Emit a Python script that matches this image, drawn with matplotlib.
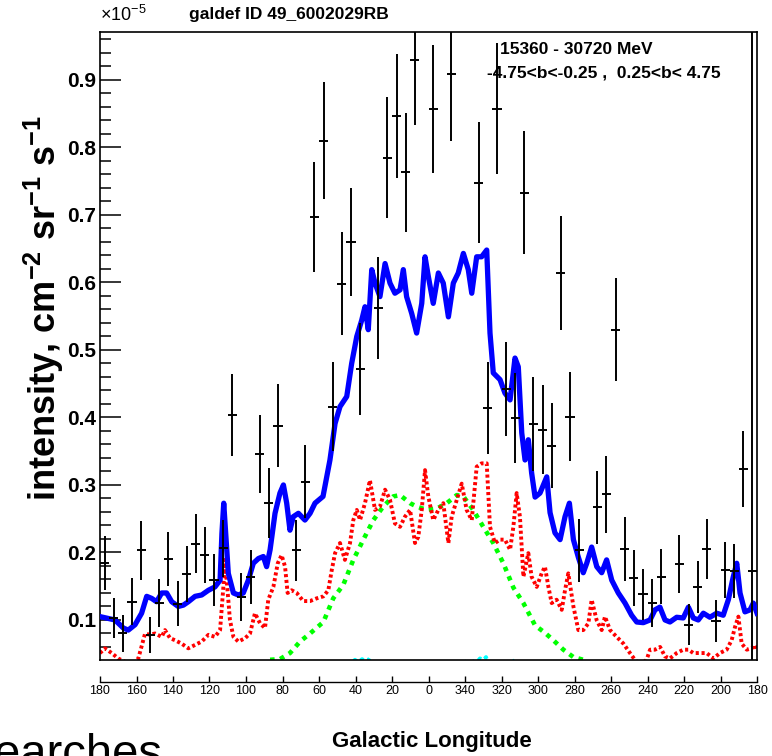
import numpy as np
import matplotlib
matplotlib.use("Agg")
import matplotlib.pyplot as plt
from matplotlib.ticker import MultipleLocator

plt.rcParams.update({
    "font.family": ["Liberation Sans", "DejaVu Sans"],
    "mathtext.fontset": "custom",
    "mathtext.rm": "Liberation Sans",
    "mathtext.bf": "Liberation Sans:bold",
})

# ---- data (intensity in units of 1e-5 cm^-2 sr^-1 s^-1) ----------------
# measured points, 5 deg bins from l = 177.5 down to -177.5 (None = no point)
data_l = np.arange(177.5, -180, -5.0)
data_v = [0.184, 0.103, 0.080, 0.127, 0.203, 0.078, 0.125, 0.190, 0.124, 0.168,
          0.213, 0.196, 0.159, 0.206, 0.404, 0.134, 0.164, 0.346, 0.273, 0.388,
          None, 0.203, 0.305, 0.697, 0.810, 0.416, 0.598, 0.660, 0.472, None,
          0.562, 0.785, 0.847, 0.763, 0.930, None, 0.857, None, 0.909, None,
          None, 0.748, 0.414, 0.857, 0.442, 0.399, 0.733, 0.390, 0.382, 0.358,
          0.614, 0.401, 0.203, None, 0.267, 0.286, 0.530, 0.205, 0.162, 0.138,
          0.125, 0.164, None, 0.183, 0.093, 0.149, 0.205, 0.099, 0.174, 0.172,
          0.324, 0.172]
data_err = [0.040, 0.030, 0.027, 0.035, 0.044, 0.027, 0.035, 0.040, 0.033, 0.041,
            0.044, 0.041, 0.039, 0.042, 0.061, 0.036, 0.040, 0.058, 0.052, 0.062,
            0.0, 0.045, 0.054, 0.081, 0.087, 0.066, 0.076, 0.080, 0.068, 0.0,
            0.076, 0.089, 0.092, 0.088, 0.097, 0.0, 0.095, 0.0, 0.099, 0.0,
            0.0, 0.089, 0.068, 0.097, 0.070, 0.067, 0.091, 0.070, 0.066, 0.063,
            0.084, 0.066, 0.047, 0.0, 0.054, 0.057, 0.076, 0.047, 0.041, 0.038,
            0.036, 0.041, 0.0, 0.043, 0.030, 0.039, 0.045, 0.031, 0.041, 0.040,
            0.056, 1.0]

# total model (blue)
blue_l = [180, 171.8, 167.2, 164.5, 160.8, 157.2, 154.4, 151.7, 149.0, 146.2,
          143.5, 140.7, 137.1, 134.3, 131.6, 127.9, 124.3, 120.6, 117.0, 114.2,
          113.2, 112.2, 111.1, 109.7, 106.9, 104.2, 101.5, 98.7, 96.0, 93.2,
          90.5, 88.7, 86.8, 84.1, 81.4, 79.5, 77.7, 75.9, 74.1, 71.3,
          67.7, 64.9, 62.2, 57.8, 54.0, 51.2, 48.5, 44.8, 42.1, 39.3,
          36.6, 34.8, 33.0, 31.1, 29.3, 26.6, 23.8, 21.1, 18.4, 15.6,
          13.8, 12.0, 9.2, 6.5, 3.7, 1.9, 0.1, -2.6, -5.4, -8.1,
          -10.9, -13.6, -16.3, -19.1, -21.8, -23.7, -26.4, -29.1, -31.9, -33.7,
          -35.5, -39.2, -41.9, -44.7, -47.4, -49.2, -51.1, -52.9, -54.7, -56.5,
          -58.4, -61.1, -64.8, -66.6, -69.3, -72.1, -74.8, -77.2, -79.4, -82.1,
          -84.8, -86.7, -89.4, -92.2, -94.9, -97.6, -100.4, -104.0, -107.7, -111.3,
          -114.1, -117.7, -121.4, -124.1, -126.8, -129.6, -132.3, -136.0, -139.6, -142.4,
          -145.1, -147.8, -150.6, -154.2, -157.9, -161.5, -164.3, -167.0, -168.9, -170.7,
          -173.4, -176.2, -178.0, -180]
blue_v = [0.105, 0.100, 0.088, 0.085, 0.093, 0.110, 0.135, 0.132, 0.127, 0.140,
          0.140, 0.127, 0.120, 0.122, 0.127, 0.135, 0.137, 0.144, 0.149, 0.159,
          0.228, 0.273, 0.228, 0.169, 0.140, 0.137, 0.140, 0.159, 0.184, 0.191,
          0.194, 0.179, 0.204, 0.258, 0.288, 0.300, 0.273, 0.233, 0.253, 0.258,
          0.248, 0.258, 0.273, 0.283, 0.337, 0.391, 0.416, 0.431, 0.480, 0.520,
          0.544, 0.564, 0.530, 0.619, 0.599, 0.579, 0.628, 0.599, 0.584, 0.589,
          0.619, 0.579, 0.554, 0.525, 0.569, 0.638, 0.609, 0.569, 0.614, 0.599,
          0.549, 0.599, 0.614, 0.643, 0.619, 0.584, 0.638, 0.638, 0.648, 0.525,
          0.466, 0.456, 0.436, 0.426, 0.488, 0.475, 0.377, 0.337, 0.367, 0.318,
          0.282, 0.288, 0.312, 0.259, 0.229, 0.219, 0.253, 0.273, 0.219, 0.193,
          0.170, 0.184, 0.208, 0.179, 0.170, 0.189, 0.159, 0.140, 0.125, 0.107,
          0.097, 0.096, 0.100, 0.115, 0.119, 0.100, 0.097, 0.104, 0.103, 0.119,
          0.103, 0.100, 0.110, 0.104, 0.110, 0.107, 0.130, 0.164, 0.184, 0.140,
          0.112, 0.115, 0.125, 0.110]

# red dotted component
red_l = [180, 177.3, 173.6, 170.0, 166.3, 162.6, 159.0, 155.3, 152.6, 149.9,
         146.2, 144.4, 141.6, 138.9, 135.3, 131.6, 127.9, 124.3, 120.6, 117.0,
         114.2, 112.4, 111.5, 110.0, 108.8, 106.9, 104.2, 100.5, 97.8, 95.1,
         92.3, 89.6, 87.8, 85.0, 82.6, 80.5, 78.6, 77.2, 75.0, 72.2,
         68.6, 64.9, 61.3, 57.6, 54.9, 53.0, 51.2, 48.5, 45.8, 43.0,
         41.2, 39.3, 37.5, 34.8, 32.1, 29.3, 26.6, 23.8, 21.1, 18.4,
         15.6, 12.9, 10.1, 7.4, 5.6, 3.7, 1.9, 0.1, -2.6, -5.4,
         -8.1, -10.9, -12.7, -15.5, -18.2, -20.9, -23.7, -26.4, -29.1, -31.9,
         -33.7, -36.4, -39.2, -41.9, -44.7, -46.5, -48.3, -50.1, -52.0, -54.7,
         -56.5, -59.3, -62.0, -63.8, -65.7, -67.5, -70.2, -73.0, -74.8, -76.6,
         -79.4, -82.1, -84.8, -87.6, -89.4, -92.1, -94.9, -96.7, -99.5, -103.1,
         -106.8, -110.4, -113.1, -115.9, -119.5, -121.4, -124.1, -126.9, -129.6, -132.3,
         -136.0, -139.6, -142.4, -145.1, -148.8, -152.4, -156.1, -159.7, -163.4, -166.1,
         -168.0, -169.8, -171.6, -174.4, -177.1, -178.9, -180]
red_v = [0.051, 0.058, 0.051, 0.043, 0.038, 0.033, 0.043, 0.080, 0.078, 0.080,
         0.075, 0.085, 0.073, 0.070, 0.065, 0.058, 0.063, 0.068, 0.078, 0.075,
         0.085, 0.149, 0.189, 0.140, 0.100, 0.075, 0.068, 0.073, 0.080, 0.110,
         0.095, 0.088, 0.130, 0.149, 0.184, 0.196, 0.179, 0.140, 0.144, 0.140,
         0.128, 0.128, 0.132, 0.135, 0.144, 0.174, 0.199, 0.214, 0.189, 0.214,
         0.248, 0.263, 0.248, 0.273, 0.307, 0.263, 0.268, 0.293, 0.278, 0.243,
         0.238, 0.253, 0.263, 0.214, 0.223, 0.263, 0.322, 0.283, 0.248, 0.263,
         0.273, 0.214, 0.253, 0.278, 0.302, 0.263, 0.248, 0.327, 0.332, 0.332,
         0.238, 0.214, 0.219, 0.219, 0.204, 0.238, 0.288, 0.253, 0.164, 0.199,
         0.164, 0.149, 0.169, 0.179, 0.149, 0.125, 0.130, 0.115, 0.144, 0.169,
         0.120, 0.085, 0.085, 0.095, 0.130, 0.100, 0.085, 0.105, 0.085, 0.075,
         0.065, 0.051, 0.041, 0.033, 0.041, 0.056, 0.056, 0.060, 0.046, 0.043,
         0.051, 0.056, 0.056, 0.051, 0.051, 0.051, 0.043, 0.051, 0.056, 0.070,
         0.090, 0.105, 0.065, 0.056, 0.058, 0.063, 0.056]

# green dotted component
green_l = [86.8, 81.4, 75.9, 70.4, 64.9, 57.6, 52.2, 46.7, 41.2, 35.7,
           30.2, 24.8, 19.3, 15.6, 10.1, 6.5, 1.0, -4.5, -10.0, -15.5,
           -19.1, -24.5, -30.0, -35.5, -41.0, -46.5, -52.0, -58.4, -63.8, -68.4,
           -73.9, -79.4, -84.8]
green_v = [0.041, 0.042, 0.051, 0.068, 0.080, 0.097, 0.132, 0.152, 0.189, 0.219,
           0.248, 0.268, 0.283, 0.285, 0.273, 0.268, 0.263, 0.265, 0.273, 0.285,
           0.283, 0.263, 0.238, 0.214, 0.184, 0.148, 0.125, 0.092, 0.081, 0.070,
           0.056, 0.045, 0.041]

# cyan component (mostly below the plotted range)
cyan_l = [44, 40.3, 38.5, 36.4, 35.0, 34.2, 33.0, 32.1, 30, 26,
          24.4, 23, 0, -17, -18.9, -21, -24, -25.5, -27, -28.2,
          -30, -31.5, -33, -45, -47.4, -50]
cyan_v = [0.030, 0.041, 0.037, 0.042, 0.039, 0.041, 0.040, 0.044, 0.035, 0.035,
          0.041, 0.033, 0.030, 0.033, 0.041, 0.036, 0.036, 0.041, 0.039, 0.043,
          0.040, 0.045, 0.034, 0.034, 0.041, 0.033]

lon_ticks = [180, 160, 140, 120, 100, 80, 60, 40, 20, 0,
             -20, -40, -60, -80, -100, -120, -140, -160, -180]
lon_labels = ["180", "160", "140", "120", "100", "80", "60", "40", "20", "0",
              "340", "320", "300", "280", "260", "240", "220", "200", "180"]

# ---- figure (positions in pixels of a 772x756 canvas) --------------------
W, H = 772, 756
fx = lambda px: px / W
fy = lambda py: 1 - py / H

fig = plt.figure(figsize=(W / 100, H / 100), dpi=100)

ax = fig.add_axes([fx(100), fy(660), fx(757) - fx(100), fy(32) - fy(660)])
ax.set_xlim(180, -180)
ax.set_ylim(0.0407, 0.971)

ax.plot(cyan_l, cyan_v, color="#00ffff", lw=2.8, ls=(0, (1, 1.2)), zorder=2)
ax.plot(green_l, green_v, color="#00ff00", lw=3.3, ls=(0, (1, 1.2)), zorder=2)
ax.plot(red_l, red_v, color="#ff0000", lw=2.8, ls=(0, (0.8, 0.7)), zorder=2)
ax.plot(blue_l, blue_v, color="#0000ff", lw=3.8, zorder=3)

dv = np.array(data_v, dtype=float)
ax.errorbar(data_l, dv, yerr=data_err, xerr=2.5, fmt="none",
            ecolor="black", elinewidth=1.4, capsize=0, zorder=4)

for s in ax.spines.values():
    s.set_linewidth(1.2)
ax.set_yticks([0.1, 0.2, 0.3, 0.4, 0.5, 0.6, 0.7, 0.8, 0.9])
ax.set_yticklabels(["0.1", "0.2", "0.3", "0.4", "0.5", "0.6", "0.7", "0.8", "0.9"],
                   fontweight="bold")
ax.yaxis.set_minor_locator(MultipleLocator(0.02))
ax.tick_params(axis="y", which="major", direction="in", length=15, width=1.1,
               labelsize=15, pad=3)
ax.tick_params(axis="y", which="minor", direction="in", length=8, width=1.1)
ax.tick_params(axis="x", which="both", bottom=False, labelbottom=False)

# separate longitude axis under the frame
axx = fig.add_axes([fx(100), fy(682), fx(757) - fx(100), 1e-4])
axx.set_xlim(180, -180)
axx.set_yticks([])
for side in ("left", "right", "top"):
    axx.spines[side].set_visible(False)
axx.spines["bottom"].set_linewidth(1.0)
axx.patch.set_visible(False)
axx.set_xticks(lon_ticks)
axx.set_xticklabels(lon_labels)
axx.tick_params(axis="x", direction="in", length=4, width=1, labelsize=9, pad=2)

# texts
fig.text(fx(100), fy(15), r"$\times10^{-5}$", ha="left", va="center", fontsize=13)
fig.text(fx(289), fy(15), "galdef ID 49_6002029RB", ha="center", va="center",
         fontsize=12.5, fontweight="bold")
fig.text(fx(500), fy(50), "15360 - 30720 MeV", ha="left", va="center",
         fontsize=12.5, fontweight="bold")
fig.text(fx(487), fy(73), "-4.75<b<-0.25 ,  0.25<b< 4.75", ha="left", va="center",
         fontsize=12.5, fontweight="bold")
fig.text(fx(44), fy(308),
         r"intensity, cm$^{\mathbf{-2}}$ sr$^{\mathbf{-1}}$ s$^{\mathbf{-1}}$",
         rotation=90, ha="center", va="center", fontsize=26, fontweight="bold")
fig.text(fx(432), fy(741), "Galactic Longitude", ha="center", va="center",
         fontsize=16, fontweight="bold")
fig.text(fx(-6), fy(733), "earches", ha="left", va="top", fontsize=34)

fig.savefig("out.png", dpi=100)
